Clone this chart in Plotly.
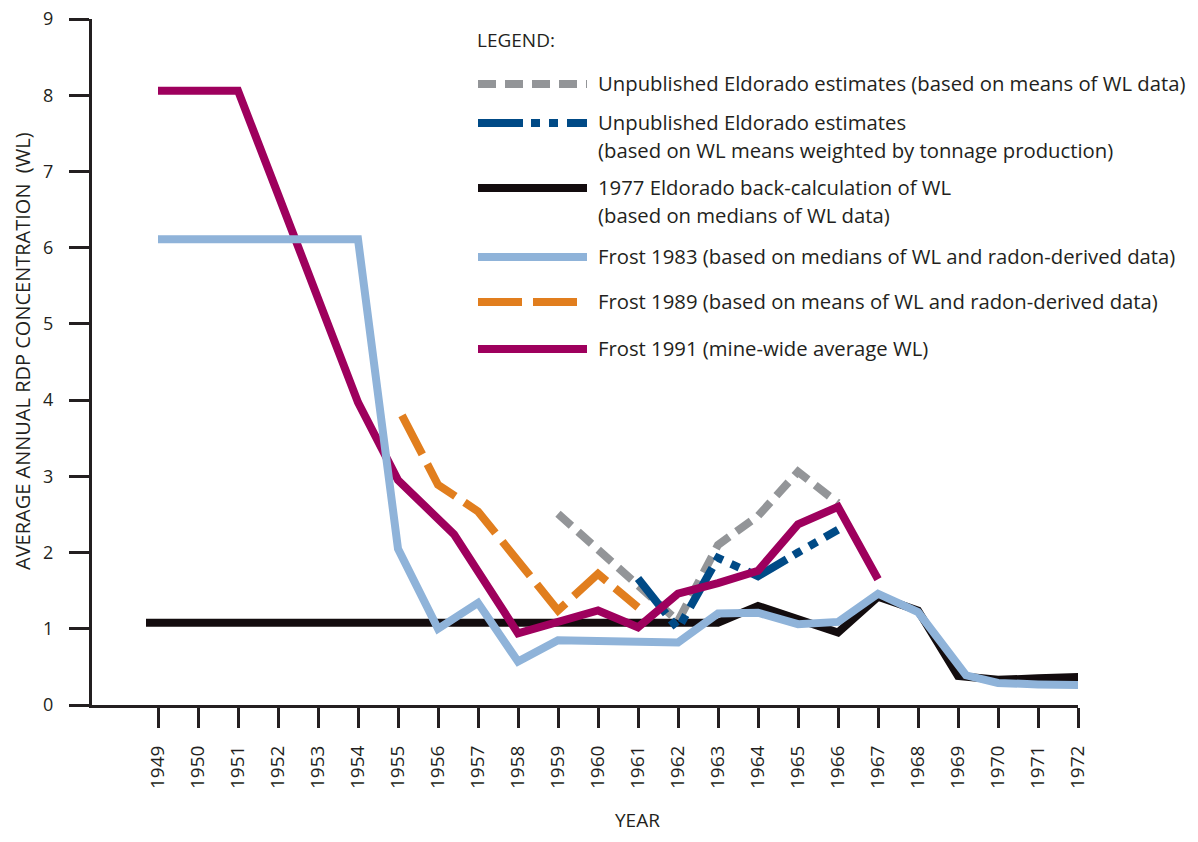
import plotly.graph_objects as go

# ---------------- data ----------------
years_axis = list(range(1949, 1973))

grey_years = [1959, 1960, 1961, 1962, 1963, 1964, 1965, 1966]
grey_vals = [2.51, 2.05, 1.58, 1.1, 2.1, 2.48, 3.06, 2.65]

blue_years = [1961, 1962, 1963, 1964, 1965, 1966]
blue_vals = [1.66, 1.0, 1.93, 1.69, 2.0, 2.3]

black_years = [1948.7, 1949, 1950, 1951, 1952, 1953, 1954, 1955, 1956, 1957, 1958, 1959,
               1960, 1961, 1962, 1963, 1964, 1965, 1966, 1967, 1968, 1969, 1970, 1971, 1972.1]
black_vals = [1.08, 1.08, 1.08, 1.08, 1.08, 1.08, 1.08, 1.08, 1.08, 1.08, 1.08, 1.08,
              1.08, 1.08, 1.08, 1.08, 1.3, 1.13, 0.95, 1.42, 1.24, 0.38, 0.33, 0.35, 0.37]

lblue_years = [1949, 1950, 1951, 1952, 1953, 1954, 1955, 1956, 1957, 1958, 1959, 1960,
               1961, 1962, 1963, 1964, 1965, 1966, 1967, 1968, 1969.2, 1970, 1971, 1972.1]
lblue_vals = [6.11, 6.11, 6.11, 6.11, 6.11, 6.11, 2.05, 1.0, 1.34, 0.57, 0.85, 0.84,
              0.83, 0.82, 1.2, 1.21, 1.06, 1.09, 1.46, 1.22, 0.39, 0.29, 0.27, 0.26]

orange_years = [1955.1, 1956, 1957, 1958, 1959, 1960, 1961]
orange_vals = [3.8, 2.89, 2.54, 1.9, 1.24, 1.72, 1.28]

purple_years = [1949, 1950, 1951, 1952, 1953, 1954, 1955, 1956.4, 1958, 1959, 1960,
                1961, 1962, 1963, 1964, 1965, 1966, 1967]
purple_vals = [8.06, 8.06, 8.06, 6.7, 5.33, 3.97, 2.95, 2.24, 0.94, 1.1, 1.24,
               1.02, 1.46, 1.6, 1.76, 2.37, 2.6, 1.65]

legend_labels = [
    ["Unpublished Eldorado estimates (based on means of WL data)"],
    ["Unpublished Eldorado estimates", "(based on WL means weighted by tonnage production)"],
    ["1977 Eldorado back-calculation of WL", "(based on medians of WL data)"],
    ["Frost 1983 (based on medians of WL and radon-derived data)"],
    ["Frost 1989 (based on means of WL and radon-derived data)"],
    ["Frost 1991 (mine-wide average WL)"],
]

# ---------------- styling ----------------
C_GREY = "#939598"
C_BLUE = "#004a86"
C_BLACK = "#130c0e"
C_LBLUE = "#8fb3d9"
C_ORANGE = "#e17e1e"
C_PURPLE = "#9e005d"
TXT = "#231f20"
FONT = "Open Sans"

D_GREY = "18px,9px"
D_BLUE = "45px,8px,9px,9px,9px,9px"
D_ORANGE = "44px,11px"

# the page body has an 8px margin; lay the figure out so the plot sits where the reference has it
OFF = 8
W = 1198 - 2 * OFF
H = 842 - 2 * OFF
PLOT_L, PLOT_R, PLOT_T, PLOT_B = 92, 1078, 19, 705  # page pixel positions of plot area
ML = PLOT_L - OFF
MT = PLOT_T - OFF
PW = PLOT_R - PLOT_L
PH = PLOT_B - PLOT_T
MR = W - ML - PW
MB = H - MT - PH


def px2paper_x(px):
    return (px - PLOT_L) / PW


def px2paper_y(py):
    return (PLOT_B - py) / PH


fig = go.Figure()


def add_line(xs, ys, color, dash="solid", width=8):
    fig.add_trace(go.Scatter(x=xs, y=ys, mode="lines",
                             line=dict(color=color, width=width, dash=dash),
                             showlegend=False, hoverinfo="skip"))


add_line(black_years, black_vals, C_BLACK, width=8)
add_line(grey_years, grey_vals, C_GREY, D_GREY)
add_line(orange_years, orange_vals, C_ORANGE, D_ORANGE)
add_line(blue_years, blue_vals, C_BLUE, D_BLUE)
add_line(purple_years, purple_vals, C_PURPLE)
add_line(lblue_years, lblue_vals, C_LBLUE)

# ---------------- custom legend ----------------
shapes = []
annotations = []
annotations.append(dict(text="LEGEND:", x=px2paper_x(475), y=px2paper_y(40),
                        xref="paper", yref="paper", xanchor="left", yanchor="middle",
                        showarrow=False, font=dict(family=FONT, size=19, color=TXT)))

legend_styles = [(C_GREY, D_GREY), (C_BLUE, D_BLUE), (C_BLACK, "solid"),
                 (C_LBLUE, "solid"), (C_ORANGE, D_ORANGE), (C_PURPLE, "solid")]
row_y = [84, 123, 188, 257, 302, 349]
line_gap = 28
for (col, dsh), ry, labs in zip(legend_styles, row_y, legend_labels):
    shapes.append(dict(type="line", xref="paper", yref="paper",
                       x0=px2paper_x(478), x1=px2paper_x(587),
                       y0=px2paper_y(ry), y1=px2paper_y(ry),
                       line=dict(color=col, width=8, dash=dsh)))
    for i, lab in enumerate(labs):
        annotations.append(dict(text=lab, x=px2paper_x(596), y=px2paper_y(ry - 1 + i * line_gap),
                                xref="paper", yref="paper", xanchor="left", yanchor="middle",
                                showarrow=False, font=dict(family=FONT, size=20.3, color=TXT)))

annotations.append(dict(text="AVERAGE ANNUAL RDP CONCENTRATION\u00a0\u00a0(WL)",
                        x=px2paper_x(22), y=px2paper_y(351), xref="paper", yref="paper",
                        textangle=-90, xanchor="center", yanchor="middle", showarrow=False,
                        font=dict(family=FONT, size=20, color=TXT)))
annotations.append(dict(text="YEAR", x=px2paper_x(637), y=px2paper_y(820),
                        xref="paper", yref="paper", xanchor="center", yanchor="middle",
                        showarrow=False, font=dict(family=FONT, size=19, color=TXT)))

fig.update_layout(
    width=W, height=H,
    margin=dict(l=ML, r=MR, t=MT, b=MB, autoexpand=False),
    paper_bgcolor="white", plot_bgcolor="white",
    font=dict(family=FONT, color=TXT),
    shapes=shapes, annotations=annotations,
    showlegend=False,
)

fig.update_xaxes(range=[1947.35, 1972], tickmode="array", tickvals=years_axis,
                 ticktext=[str(y) for y in years_axis], tickangle=-90,
                 ticks="outside", ticklen=20, tickwidth=3, tickcolor=TXT,
                 showline=True, linewidth=3, linecolor=TXT, showgrid=False, zeroline=False,
                 tickfont=dict(family=FONT, size=19, color=TXT), ticklabelstandoff=10,
                 automargin=False, ticklabeloverflow="allow")
fig.update_yaxes(range=[0, 9], tickmode="array", tickvals=list(range(0, 10)),
                 ticks="outside", ticklen=20, tickwidth=3, tickcolor=TXT,
                 showline=True, linewidth=3, linecolor=TXT, showgrid=False, zeroline=False,
                 tickfont=dict(family=FONT, size=18, color=TXT), ticklabelstandoff=12,
                 automargin=False, ticklabeloverflow="allow")

fig.write_html("out.html")
